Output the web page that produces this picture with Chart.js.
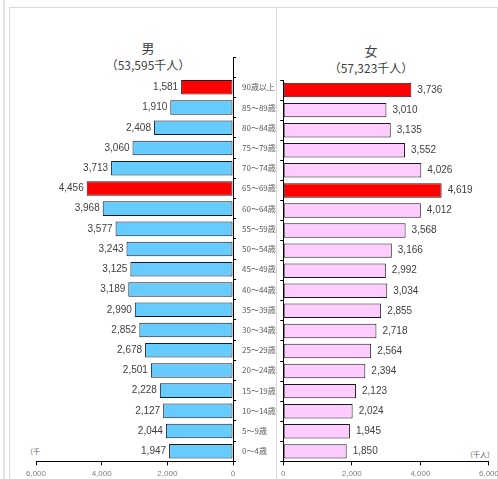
<!DOCTYPE html>
<html>
<head>
<meta charset="utf-8">
<script src="https://cdn.jsdelivr.net/npm/chart.js@4.4.1/dist/chart.umd.min.js"></script>
<style>
  html, body { margin: 0; padding: 0; background: #fff; overflow: hidden; }
  body { width: 498px; height: 479px; position: relative; font-family: "Liberation Sans", "Noto Sans CJK JP", sans-serif; }
  .strip { position: absolute; left: 3px; top: 0; width: 2px; height: 479px; background: #e6e6e6; }
  .frame { position: absolute; left: 9px; top: 7px; width: 489px; height: 480px; border: 1px solid #d9d9d9; box-sizing: border-box; }
  .sep { position: absolute; left: 276px; top: 7px; width: 1px; height: 472px; background: #d9d9d9; }
  .title { position: absolute; width: 160px; text-align: center; color: #404040; font-family: "Noto Sans CJK JP", sans-serif; line-height: 17px; }
  .title .a { font-size: 13px; }
  .title .b { font-size: 12px; }
  .unit { position: absolute; font-size: 7px; color: #595959; font-family: "Noto Sans CJK JP", sans-serif; }
  canvas { position: absolute; }
</style>
</head>
<body>
<div class="strip"></div>
<div class="frame"></div>
<div class="sep"></div>
<div class="title" style="left:68px; top:39px;"><div class="a">男</div><div class="b">（53,595千人）</div></div>
<div class="title" style="left:291px; top:42px;"><div class="a">女</div><div class="b">（57,323千人）</div></div>
<div class="unit" style="left:26px; top:446px;">（千</div>
<div class="unit" style="left:466px; top:449px;">（千人）</div>
<canvas id="maleChart" width="266" height="475" style="left:10px; top:8px;"></canvas>
<canvas id="femaleChart" width="226" height="475" style="left:277px; top:8px;"></canvas>
<script>
// age groups, oldest first (top of the chart)
const ageGroups = ['90歳以上', '85～89歳', '80～84歳', '75～79歳', '70～74歳', '65～69歳', '60～64歳',
    '55～59歳', '50～54歳', '45～49歳', '40～44歳', '35～39歳', '30～34歳', '25～29歳',
    '20～24歳', '15～19歳', '10～14歳', '5～9歳', '0～4歳'];
// population, thousands
const male = [1581, 1910, 2408, 3060, 3713, 4456, 3968, 3577, 3243, 3125, 3189, 2990, 2852, 2678, 2501, 2228, 2127, 2044, 1947];
const female = [3736, 3010, 3135, 3552, 4026, 4619, 4012, 3568, 3166, 2992, 3034, 2855, 2718, 2564, 2394, 2123, 2024, 1945, 1850];
const highlighted = ['90歳以上', '65～69歳'];
const xTicks = [0, 2000, 4000, 6000];

const numFamily = "'Liberation Sans', sans-serif";

const valueLabels = {
    id: 'valueLabels',
    afterDatasetsDraw(chart, args, opts) {
        const ctx = chart.ctx;
        const data = chart.data.datasets[0].data;
        ctx.save();
        ctx.font = '10px ' + numFamily;
        ctx.fillStyle = '#404040';
        ctx.textBaseline = 'middle';
        chart.getDatasetMeta(0).data.forEach((bar, i) => {
            if (data[i] == null) return;
            const txt = data[i].toLocaleString('en-US');
            if (opts.side == 'left') {
                ctx.textAlign = 'right';
                ctx.fillText(txt, bar.x - 3, bar.y);
            } else {
                ctx.textAlign = 'left';
                ctx.fillText(txt, bar.x + 6, bar.y);
            }
        });
        ctx.restore();
    }
};

function xScale(reverse) {
    return {
        reverse: reverse,
        min: 0,
        max: 6000,
        afterBuildTicks: scale => { scale.ticks = xTicks.map(v => ({ value: v })); },
        ticks: {
            color: '#7f7f7f',
            font: { family: numFamily, size: 8 },
            padding: 4,
            callback: v => v.toLocaleString('en-US')
        },
        grid: { drawOnChartArea: false, tickLength: 4, color: '#000' },
        border: { color: '#000', width: 1 }
    };
}

// male side: an empty slot on top, like the original sheet
const maleLabels = [''].concat(ageGroups);
const maleData = [null].concat(male);

const maleChart = new Chart(document.getElementById('maleChart'), {
    type: 'bar',
    data: {
        labels: maleLabels,
        datasets: [{
            data: maleData,
            backgroundColor: maleLabels.map(l => highlighted.includes(l) ? '#ff0000' : '#66ccff'),
            borderColor: '#1a1a1a',
            borderWidth: 1,
            borderSkipped: false,
            barPercentage: 0.72,
            categoryPercentage: 1
        }]
    },
    options: {
        indexAxis: 'y',
        responsive: false,
        animation: false,
        layout: { padding: { top: 49, left: 26, right: 0, bottom: 0 } },
        scales: {
            x: xScale(true),
            y: {
                position: 'right',
                afterFit: scale => { scale.width = 43; },
                ticks: {
                    color: '#595959',
                    font: { family: "'Noto Sans CJK JP', sans-serif", size: 8 },
                    padding: 6
                },
                grid: { drawOnChartArea: false, tickLength: 3, color: '#000' },
                border: { color: '#000', width: 1 }
            }
        },
        plugins: {
            legend: { display: false },
            tooltip: { enabled: false },
            valueLabels: { side: 'left' }
        }
    },
    plugins: [valueLabels]
});

const femaleChart = new Chart(document.getElementById('femaleChart'), {
    type: 'bar',
    data: {
        labels: ageGroups,
        datasets: [{
            data: female,
            backgroundColor: ageGroups.map(l => highlighted.includes(l) ? '#ff0000' : '#ffccff'),
            borderColor: '#1a1a1a',
            borderWidth: 1,
            borderSkipped: false,
            barPercentage: 0.72,
            categoryPercentage: 1
        }]
    },
    options: {
        indexAxis: 'y',
        responsive: false,
        animation: false,
        layout: { padding: { top: 72, left: 2, right: 0, bottom: 0 } },
        scales: {
            x: xScale(false),
            y: {
                position: 'left',
                ticks: { display: false },
                grid: { drawOnChartArea: false, tickLength: 3, color: '#000' },
                border: { color: '#000', width: 1 }
            }
        },
        plugins: {
            legend: { display: false },
            tooltip: { enabled: false },
            valueLabels: { side: 'right' }
        }
    },
    plugins: [valueLabels]
});
</script>
</body>
</html>
